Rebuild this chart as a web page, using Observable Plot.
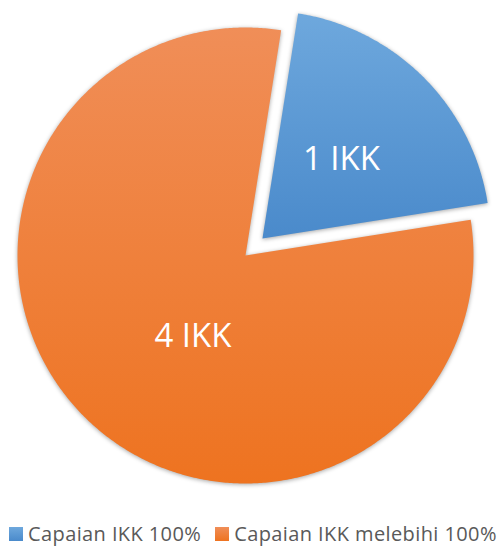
<!DOCTYPE html>
<html><head><meta charset="utf-8">
<script src="https://cdn.jsdelivr.net/npm/d3@7"></script>
<script src="https://cdn.jsdelivr.net/npm/@observablehq/plot@0.6"></script>
<style>
body{margin:0;background:#fff;}
#chart{width:502px;height:547px;position:relative;overflow:hidden}
#chart svg{display:block}
.legend{display:flex;align-items:center;height:20px;padding-top:4px;font-family:"Open Sans",sans-serif;font-size:20px;letter-spacing:0.4px;line-height:20px;color:#595959;white-space:nowrap}
.sw{width:14px;height:14px;display:inline-block;margin-right:5px;flex:none}
g[aria-label="line"] path{filter:drop-shadow(0px 1px 2px rgba(0,0,0,0.35));}
</style></head><body><div id="chart"></div>
<script>
const categories = ["Capaian IKK 100%", "Capaian IKK melebihi 100%"];
const values = [1, 4];
const labels = ["1 IKK", "4 IKK"];
const topColors = ["#6ea8dd", "#f08e58"];
const bottomColors = ["#4a8acb", "#ee7320"];

const W = 502, H = 520, R = 228, cx = 245, cy = 255;
const startDeg = 9, explode = 0.105;
const pie = d3.pie().sort(null).startAngle(startDeg*Math.PI/180).endAngle(startDeg*Math.PI/180 + 2*Math.PI)(values);

const pts = [];
const lab = [];
pie.forEach((a, i) => {
  const m = (a.startAngle + a.endAngle)/2;
  const off = i === 0 ? explode : 0;
  const ox = off*Math.sin(m), oy = off*Math.cos(m);
  pts.push({cat: categories[i], x: ox, y: oy});
  const n = Math.ceil((a.endAngle - a.startAngle)/(Math.PI/360));
  for (let k = 0; k <= n; k++) {
    const t = a.startAngle + (a.endAngle - a.startAngle)*k/n;
    pts.push({cat: categories[i], x: ox + Math.sin(t), y: oy + Math.cos(t)});
  }
  const lr = i === 0 ? 0.49 : 0.45;
  lab.push({i, text: labels[i], x: ox + lr*Math.sin(m), y: oy + lr*Math.cos(m)});
});

const plot = Plot.plot({
  width: W, height: H, margin: 0,
  style: {fontFamily: "'Open Sans', sans-serif", background: "transparent"},
  x: {domain: [-cx/R, (W-cx)/R], range: [0, W], axis: null},
  y: {domain: [-(H-cy)/R, cy/R], range: [H, 0], axis: null},
  color: {domain: categories, range: categories.map((c, i) => `url(#grad${i})`)},
  marks: [
    Plot.line(pts, {x: "x", y: "y", z: "cat", fill: "cat", stroke: "none", curve: "linear-closed"}),
    Plot.text(lab.filter(d => d.i === 0), {x: "x", y: "y", text: "text", fill: "white", fontSize: 33}),
    Plot.text(lab.filter(d => d.i === 1), {x: "x", y: "y", text: "text", fill: "white", fontSize: 33, dx: 20, dy: 8})
  ]
});

const svg = d3.select(plot);
const defs = svg.insert("defs", ":first-child");
categories.forEach((c, i) => {
  const g = defs.append("linearGradient").attr("id", `grad${i}`).attr("x1", 0).attr("y1", 0).attr("x2", 0).attr("y2", 1);
  g.append("stop").attr("offset", "0%").attr("stop-color", topColors[i]);
  g.append("stop").attr("offset", "100%").attr("stop-color", bottomColors[i]);
});

const chart = document.getElementById("chart");
chart.appendChild(plot);

const legend = document.createElement("div");
legend.className = "legend";
categories.forEach((c, i) => {
  const sw = document.createElement("span");
  sw.className = "sw";
  sw.style.background = `linear-gradient(${topColors[i]}, ${bottomColors[i]})`;
  sw.style.marginLeft = i === 0 ? "9px" : "14px";
  const t = document.createElement("span");
  t.textContent = c;
  legend.appendChild(sw);
  legend.appendChild(t);
});
chart.appendChild(legend);
</script></body></html>
